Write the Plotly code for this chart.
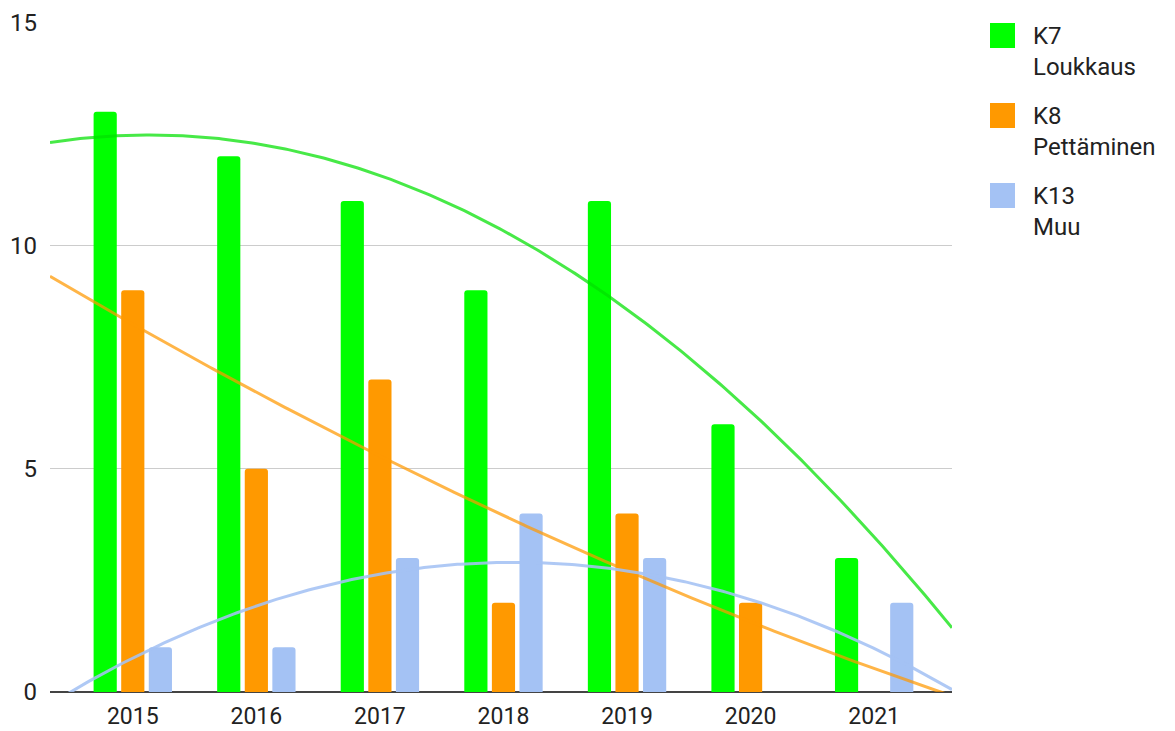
import numpy as np
import plotly.graph_objects as go

years = ["2015", "2016", "2017", "2018", "2019", "2020", "2021"]
k7_loukkaus = [13, 12, 11, 9, 11, 6, 3]
k8_pettaminen = [9, 5, 7, 2, 4, 2, 0]
k13_muu = [1, 1, 3, 4, 3, 0, 2]

series_names = ["K7<br>Loukkaus", "K8<br>Pettäminen", "K13<br>Muu"]
series_values = [k7_loukkaus, k8_pettaminen, k13_muu]
bar_colors = ["#00ff00", "#ff9900", "#a4c2f4"]
trend_colors = ["rgba(0,225,0,0.72)", "rgba(255,153,0,0.72)", "rgba(164,194,244,0.88)"]

FONT = "Roboto"
FS = 24

x_idx = np.arange(len(years))
x_range = [-0.67, 6.63]

fig = go.Figure()
for name, vals, col in zip(series_names, series_values, bar_colors):
    fig.add_trace(go.Bar(x=x_idx, y=vals, name=name, marker=dict(color=col, line=dict(width=0)),
                         showlegend=False))

xs = np.linspace(x_range[0], x_range[1], 300)
for name, vals, col in zip(series_names, series_values, trend_colors):
    coeffs = np.polyfit(x_idx, vals, 2)
    fig.add_trace(go.Scatter(x=xs, y=np.polyval(coeffs, xs), mode="lines",
                             line=dict(color=col, width=3), showlegend=False,
                             hoverinfo="skip"))

# page body has an 8px margin: the figure starts at (8, 8) on screen
OFF = 8
W, H = 1175, 731
PL, PR, PT, PB = 50, 952, 22, 692   # plot area in screen pixels
leg_x0, leg_y0, leg_step = 990, 23, 80
for i, (name, col) in enumerate(zip(series_names, bar_colors)):
    top = leg_y0 + i * leg_step
    fig.add_shape(type="rect", xref="paper", yref="paper",
                  x0=(leg_x0 - PL) / (PR - PL), x1=(leg_x0 + 25 - PL) / (PR - PL),
                  y0=(PB - (top + 25)) / (PB - PT), y1=(PB - top) / (PB - PT),
                  fillcolor=col, line=dict(width=0))
    fig.add_annotation(xref="paper", yref="paper",
                       x=(1031 - PL) / (PR - PL), y=(PB - (top - 3)) / (PB - PT),
                       xanchor="left", yanchor="top", align="left", showarrow=False,
                       text=name, font=dict(family=FONT, size=FS, color="#222222"))

fig.update_layout(
    template="none",
    width=W - OFF, height=H - OFF,
    margin=dict(l=PL - OFF, r=W - PR, t=PT - OFF, b=H - PB, pad=0),
    paper_bgcolor="white", plot_bgcolor="white",
    barmode="group", bargap=0.33, bargroupgap=0.16, barcornerradius=3,
    font=dict(family=FONT, size=FS, color="#222222"),
    showlegend=False,
    xaxis=dict(range=x_range, tickmode="array", tickvals=list(x_idx), ticktext=years,
               showgrid=False, zeroline=False, showline=False, ticks="", automargin=False,
               ticklabelstandoff=8, tickfont=dict(family=FONT, size=23, color="#222222")),
    yaxis=dict(range=[0, 15.01], tickvals=[0, 5, 10, 15], showgrid=True, gridcolor="#cccccc",
               gridwidth=1, zeroline=True, zerolinecolor="#444444", zerolinewidth=2,
               showline=False, ticks="", ticklabelstandoff=12, automargin=False,
               tickfont=dict(family=FONT, size=FS, color="#222222")),
)

fig.write_html("out.html")
